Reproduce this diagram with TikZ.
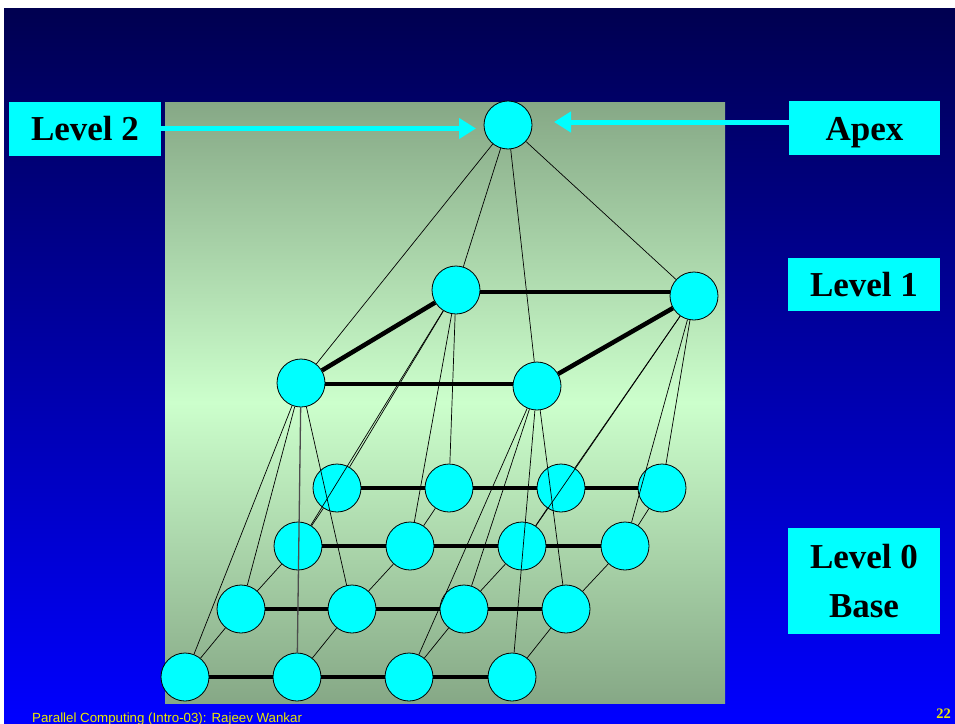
\documentclass[tikz,border=0pt]{standalone}
\usepackage{fontspec}
\setmainfont{Liberation Serif}
\newfontfamily\footfont{Liberation Sans}
\usetikzlibrary{arrows.meta}

\definecolor{slidetop}{RGB}{0,0,80}
\definecolor{slidebot}{RGB}{0,0,255}
\definecolor{paneledge}{RGB}{134,168,134}
\definecolor{panelmid}{RGB}{204,255,204}
\definecolor{nodecyan}{RGB}{0,255,255}
\definecolor{foottext}{RGB}{235,235,0}

\pgfdeclarelayer{bg}
\pgfdeclarelayer{mesh}
\pgfdeclarelayer{base}
\pgfdeclarelayer{links}
\pgfsetlayers{bg,mesh,base,links,main}

\tikzset{
  pe/.style={circle, draw=black, line width=0.8pt, fill=nodecyan,
             minimum size=48pt, inner sep=0pt},
  labelbox/.style={fill=nodecyan, inner sep=0pt, align=center,
             font=\fontsize{35}{49}\selectfont\bfseries},
  oneline/.style={labelbox, text height=24pt, text depth=0pt},
  meshedge/.style={line width=4pt},
  ringedge/.style={line width=4.5pt},
  linkedge/.style={line width=0.7pt},
  pointer/.style={draw=nodecyan, line width=5pt,
             -{Triangle[length=17pt,width=20pt,fill=nodecyan]}},
}

\begin{document}
\begin{tikzpicture}[x=1pt,y=-1pt]
\useasboundingbox (0,0) rectangle (955,723);

% slide background and the shaded panel
\begin{pgfonlayer}{bg}
  \fill[white] (0,0) rectangle (955,723);
  \shade[top color=slidetop, bottom color=slidebot] (4,8) rectangle (955,723);
  \shade[top color=paneledge, bottom color=paneledge, middle color=panelmid]
        (165,102) rectangle (725,703);
\end{pgfonlayer}

% level 0: the 4x4 base mesh
\begin{pgfonlayer}{base}
  \foreach \r/\y/\xa/\xb/\xc/\xd in {1/488/337/449/561/662,
                                     2/546/298/410/522/625,
                                     3/609/241/352/464/566,
                                     4/677/185/297/409/512}{
    \node[pe] (b\r1) at (\xa,\y) {};
    \node[pe] (b\r2) at (\xb,\y) {};
    \node[pe] (b\r3) at (\xc,\y) {};
    \node[pe] (b\r4) at (\xd,\y) {};
  }
\end{pgfonlayer}

% level 1 and the apex
\node[pe] (la) at (456,290) {};
\node[pe] (lb) at (694,296) {};
\node[pe] (lc) at (301,383) {};
\node[pe] (ld) at (537,386) {};
\node[pe] (apex) at (508,125) {};

% mesh edges of the base
\begin{pgfonlayer}{mesh}
  \foreach \r in {1,2,3,4}{
    \foreach \c/\d in {1/2,2/3,3/4}{
      \draw[meshedge] (b\r\c) -- (b\r\d);
    }
  }
  \foreach \c in {1,2,3,4}{
    \foreach \r/\s in {1/2,2/3,3/4}{
      \draw[linkedge] (b\r\c) -- (b\s\c);
    }
  }
\end{pgfonlayer}

% pyramid links between levels
\begin{pgfonlayer}{links}
  \foreach \t in {11,12,21,22}{\draw[linkedge] (la) -- (b\t);}
  \foreach \t in {13,14,23,24}{\draw[linkedge] (lb) -- (b\t);}
  \foreach \t in {31,32,41}{\draw[linkedge] (lc) -- (b\t);}
  \draw[line width=1.3pt, black!70] (lc) -- (b42);
  \foreach \t in {33,34,43,44}{\draw[linkedge] (ld) -- (b\t);}
  \foreach \t in {la,lb,lc,ld}{\draw[linkedge] (apex) -- (\t);}
  \draw[ringedge] ([yshift=-2pt]la.east) -- ([yshift=-2pt]la.east -| lb.west);
  \draw[ringedge] (la) -- (lc);
  \draw[ringedge] ([yshift=-1pt]lc.east) -- ([yshift=-1pt]lc.east -| ld.west);
  \draw[ringedge] (lb) -- (ld);
\end{pgfonlayer}

% level labels
\node[oneline, minimum width=152pt, minimum height=54pt] (lv2) at (85,128.5) {Level 2};
\node[oneline, minimum width=151pt, minimum height=54pt] (apexlabel) at (864.5,128) {Apex};
\node[oneline, minimum width=152pt, minimum height=53pt] (lv1) at (864,284.5) {Level 1};
\node[labelbox, minimum width=152pt, minimum height=106pt] (lv0) at (864,581) {Level 0\\Base};

% pointers to the apex
\coordinate (tipL) at (476,128.5);
\coordinate (tipR) at (554,122);
\draw[pointer] (lv2.east) -- (tipL);
\draw[pointer] (apexlabel.west |- tipR) -- (tipR);

% footer
\node[anchor=base west, inner sep=0pt, text=foottext,
      font=\footfont\fontsize{13.3}{15}\selectfont] (footer) at (32,722)
      {Parallel Computing (Intro-03): Rajeev Wankar};
\node[anchor=base east, inner sep=0pt, text=foottext,
      font=\fontsize{14.5}{16}\selectfont\bfseries] (pageno) at (951,718) {22};
\end{tikzpicture}
\end{document}
